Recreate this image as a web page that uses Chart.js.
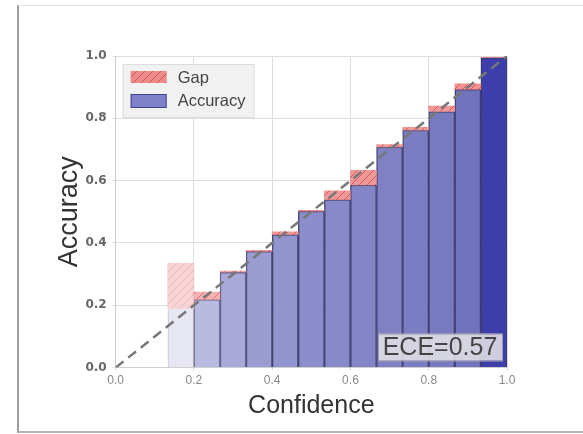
<!DOCTYPE html>
<html>
<head>
<meta charset="utf-8">
<script src="https://cdn.jsdelivr.net/npm/chart.js@4.4.0/dist/chart.umd.min.js"></script>
<style>
html, body { margin: 0; padding: 0; background: #fff; }
#wrap { position: relative; width: 583px; height: 434px; overflow: hidden; }
#frame { position: absolute; left: 17px; top: 5px; width: 580px; height: 425px;
  border-left: 2px solid #9c9c9c; border-top: 1px solid #e4e4e4; border-bottom: 2px solid #b4b4b4; }
#c { position: absolute; left: 0; top: 0; }
</style>
</head>
<body>
<div id="wrap"><div id="frame"></div><canvas id="c" width="583" height="434"></canvas></div>
<script>
// --- data ---
const binCount = 15;
const binIndex   = [2, 3, 4, 5, 6, 7, 8, 9, 10, 11, 12, 13, 14];
const accuracy   = [0.335, 0.218, 0.306, 0.373, 0.427, 0.502, 0.539, 0.586, 0.708, 0.762, 0.822, 0.893, 0.995];
const confidence = [0.190, 0.242, 0.310, 0.376, 0.436, 0.505, 0.567, 0.633, 0.716, 0.771, 0.839, 0.911, 0.995];
const axisTicks  = [0, 0.2, 0.4, 0.6, 0.8, 1.0];
const eceLabel = 'ECE=0.57';

// --- styles ---
const barFill = ['#e7e7f4', '#b9badf', '#a8a9d8', '#9b9dd2', '#9294ce', '#8c8ecb', '#8789c8',
                 '#8385c6', '#7f81c4', '#7b7dc2', '#787ac0', '#7173bd', '#3d3dab'];
const barAlpha = [0.2, 0.6, 0.7, 0.75, 0.8, 0.8, 0.8, 0.8, 0.8, 0.8, 0.8, 0.85, 0.9];
const FONT = "'Liberation Sans', Arial, sans-serif";

function hatch(fill, line) {
    const p = document.createElement('canvas');
    p.width = 8; p.height = 8;
    const g = p.getContext('2d');
    g.fillStyle = fill;
    g.fillRect(0, 0, 8, 8);
    g.strokeStyle = line;
    g.lineWidth = 1;
    g.beginPath();
    g.moveTo(0, 8); g.lineTo(8, 0);
    g.moveTo(-4, 4); g.lineTo(4, -4);
    g.moveTo(4, 12); g.lineTo(12, 4);
    g.stroke();
    return document.getElementById('c').getContext('2d').createPattern(p, 'repeat');
}
const gapHatch = a => a < 0.5
    ? hatch('rgba(252,208,208,0.85)', 'rgba(240,175,175,0.85)')
    : hatch(`rgba(236,128,128,${a})`, `rgba(215,75,75,${a})`);

const centers = binIndex.map(i => (i + 0.5) / binCount);
const accData = centers.map((x, k) => ({ x: x, y: accuracy[k] }));
const gapData = centers.map((x, k) => ({ x: x, y: [accuracy[k], confidence[k]] }));

const overlay = {
    id: 'overlay',
    afterDatasetsDraw(chart) {
        const { ctx, chartArea: a } = chart;
        ctx.save();
        // legend box
        const lx = a.left + 7, ly = a.top + 8;
        ctx.fillStyle = 'rgba(240,240,240,0.92)';
        ctx.strokeStyle = '#dcdcdc';
        ctx.lineWidth = 1;
        ctx.fillRect(lx, ly, 131, 53);
        ctx.strokeRect(lx + 0.5, ly + 0.5, 131, 53);
        ctx.fillStyle = gapHatch(0.9);
        ctx.fillRect(lx + 8, ly + 7, 36, 12);
        ctx.fillStyle = '#7f81c9';
        ctx.fillRect(lx + 8, ly + 30, 36, 14);
        ctx.strokeStyle = 'rgba(40,40,110,0.7)';
        ctx.strokeRect(lx + 8.5, ly + 30.5, 35, 13);
        ctx.fillStyle = '#444';
        ctx.font = `16.5px ${FONT}`;
        ctx.textBaseline = 'middle';
        ctx.fillText('Gap', lx + 55, ly + 14);
        ctx.fillText('Accuracy', lx + 55, ly + 37);
        // ECE box
        const ex = a.right - 129, ey = a.bottom - 34;
        ctx.fillStyle = 'rgba(225,225,230,0.88)';
        ctx.fillRect(ex, ey, 124, 27);
        ctx.strokeStyle = '#9a9aa8';
        ctx.strokeRect(ex + 0.5, ey + 0.5, 124, 27);
        ctx.fillStyle = '#444';
        ctx.font = `25px ${FONT}`;
        ctx.textAlign = 'center';
        ctx.fillText(eceLabel, ex + 62, ey + 15);
        ctx.restore();
    }
};

new Chart(document.getElementById('c'), {
    type: 'bar',
    data: {
        datasets: [
            {
                type: 'line', label: 'Perfect', data: [{ x: 0, y: 0 }, { x: 1, y: 1 }],
                borderColor: '#777', borderWidth: 2.5, borderDash: [10, 6], pointRadius: 0, order: 0
            },
            {
                label: 'Gap', data: gapData, grouped: false, order: 1,
                backgroundColor: barAlpha.map(gapHatch),
                borderWidth: 0,
                barPercentage: 1, categoryPercentage: 1
            },
            {
                label: 'Accuracy', data: accData, grouped: false, order: 2,
                backgroundColor: barFill,
                borderColor: barAlpha.map(a => `rgba(35,35,95,${a})`), borderWidth: 1.5,
                barPercentage: 1, categoryPercentage: 1
            }
        ]
    },
    options: {
        responsive: false,
        animation: false,
        layout: { padding: { top: 56, right: 76, left: 53, bottom: 9 } },
        plugins: { legend: { display: false }, tooltip: { enabled: false } },
        scales: {
            x: {
                type: 'linear', min: 0, max: 1, offset: false,
                afterBuildTicks: s => { s.ticks = axisTicks.map(v => ({ value: v })); },
                ticks: { color: '#888', font: { size: 12, family: FONT }, padding: 3,
                         callback: v => v.toFixed(1), maxRotation: 0 },
                grid: { color: '#dedede', offset: false, tickLength: 3, drawTicks: true },
                border: { color: '#cfcfcf' },
                title: { display: true, text: 'Confidence', color: '#333', font: { size: 25, family: FONT }, padding: { top: 0 } }
            },
            y: {
                min: 0, max: 1,
                afterBuildTicks: s => { s.ticks = axisTicks.map(v => ({ value: v })); },
                ticks: { color: '#666', font: { size: 12, family: "'DejaVu Sans', sans-serif", weight: 'bold' }, padding: 6,
                         callback: v => v.toFixed(1) },
                grid: { color: '#dedede', tickLength: 3 },
                border: { color: '#cfcfcf' },
                title: { display: true, text: 'Accuracy', color: '#333', font: { size: 27, family: FONT }, padding: { top: 0, bottom: -6 } }
            }
        }
    },
    plugins: [overlay]
});
</script>
</body>
</html>
